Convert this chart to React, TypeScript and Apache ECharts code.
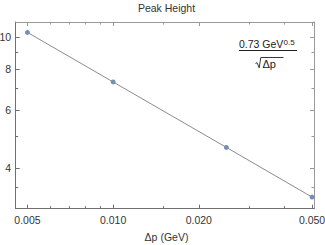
import React, { useEffect, useRef } from 'react';
import * as echarts from 'echarts';

// ---- data ----
const xValues = [0.005, 0.01, 0.025, 0.05];
const yValues = [10.32, 7.3, 4.62, 3.265];
const xMajorTicks = [0.005, 0.01, 0.02, 0.05];
const xMinorTicks = [0.006, 0.007, 0.008, 0.009, 0.015, 0.03, 0.04];
const yMajorTicks = [4, 6, 8, 10];
const yMinorTicks = [3.5, 5, 7, 9];
const xRange = [0.004546, 0.0508];
const yRange = [3.01, 11.1];
const titleText = 'Peak Height';
const xAxisTitle = 'Δp (GeV)';
const fitNumerator = '0.73 GeV';
const fitExponent = '0.5';
const fitDenominator = 'Δp';

const FONT = '"Liberation Sans", Arial, sans-serif';
const TEXT = '#333';

function xAx(position: string, ticks: number[], len: number, color: string, showLine: boolean, labels: boolean) {
  return {
    type: 'log',
    gridIndex: 0,
    position,
    min: xRange[0],
    max: xRange[1],
    axisLine: { show: showLine, onZero: false, lineStyle: { color, width: 1 } },
    axisTick: { show: true, inside: true, length: len, customValues: ticks, lineStyle: { color, width: 1 } },
    axisLabel: labels
      ? { show: true, customValues: ticks, formatter: (v: number) => Number(v).toFixed(3), fontSize: 10.5, color: TEXT, margin: 6, fontFamily: FONT }
      : { show: false },
    splitLine: { show: false },
    minorTick: { show: false },
    minorSplitLine: { show: false },
  };
}

function yAx(position: string, ticks: number[], len: number, color: string, showLine: boolean, labels: boolean) {
  return {
    type: 'log',
    gridIndex: 0,
    position,
    min: yRange[0],
    max: yRange[1],
    axisLine: { show: showLine, onZero: false, lineStyle: { color, width: 1 } },
    axisTick: { show: true, inside: true, length: len, customValues: ticks, lineStyle: { color, width: 1 } },
    axisLabel: labels
      ? { show: true, customValues: ticks, formatter: (v: number) => String(Math.round(Number(v))), fontSize: 10.5, color: TEXT, margin: 4.5, fontFamily: FONT }
      : { show: false },
    splitLine: { show: false },
    minorTick: { show: false },
    minorSplitLine: { show: false },
  };
}

export default function App() {
  const ref = useRef<HTMLDivElement>(null);
  useEffect(() => {
    if (!ref.current) return;
    const chart = echarts.init(ref.current, null, { renderer: 'svg' });
    const points = xValues.map((x, i) => [x, yValues[i]]);
    const dark = '#6f6f6f';
    const light = '#9a9a9a';
    chart.setOption({
      animation: false,
      backgroundColor: '#ffffff',
      grid: { left: 15.7, right: 11, top: 22, bottom: 36.3, containLabel: false, outerBoundsMode: 'none' },
      xAxis: [
        xAx('bottom', xMajorTicks, 4, dark, true, true),
        xAx('bottom', xMinorTicks, 2.5, dark, false, false),
        xAx('top', xMajorTicks, 4, light, true, false),
        xAx('top', xMinorTicks, 2.5, light, false, false),
      ],
      yAxis: [
        yAx('left', yMajorTicks, 4, dark, true, true),
        yAx('left', yMinorTicks, 2.5, dark, false, false),
        yAx('right', yMajorTicks, 4, light, true, false),
        yAx('right', yMinorTicks, 2.5, light, false, false),
      ],
      series: [
        {
          type: 'line',
          xAxisIndex: 0,
          yAxisIndex: 0,
          data: points,
          symbol: 'none',
          lineStyle: { color: '#8c8c8c', width: 1 },
          silent: true,
        },
        {
          type: 'scatter',
          xAxisIndex: 0,
          yAxisIndex: 0,
          data: points,
          symbolSize: 5,
          itemStyle: { color: '#4f72b0' },
          silent: true,
        },
      ],
      graphic: [
        {
          type: 'text', x: 166.5, y: 8,
          style: { text: titleText, fontSize: 10.5, fill: TEXT, fontFamily: FONT, align: 'center', verticalAlign: 'middle' },
        },
        {
          type: 'text', x: 166.5, y: 237,
          style: { text: xAxisTitle, fontSize: 10.5, fill: TEXT, fontFamily: FONT, align: 'center', verticalAlign: 'middle' },
        },
        {
          type: 'text', x: 239, y: 44,
          style: { text: fitNumerator, fontSize: 10.5, fill: '#222', fontFamily: FONT, align: 'left', verticalAlign: 'middle' },
        },
        {
          type: 'text', x: 283.5, y: 42,
          style: { text: fitExponent, fontSize: 8, fill: '#222', fontFamily: FONT, align: 'left', verticalAlign: 'middle' },
        },
        {
          type: 'line',
          shape: { x1: 239, y1: 50.5, x2: 297, y2: 50.5 },
          style: { stroke: '#222', lineWidth: 1 },
        },
        {
          type: 'polyline',
          shape: { points: [[255.5, 63.5], [257, 62.6], [259.2, 67.8], [260.8, 57.5], [283.5, 57.5]] },
          style: { stroke: '#222', lineWidth: 0.9, fill: null },
        },
        {
          type: 'text', x: 262.5, y: 63.5,
          style: { text: fitDenominator, fontSize: 11, fill: '#222', fontFamily: FONT, align: 'left', verticalAlign: 'middle' },
        },
      ],
    });
    return () => chart.dispose();
  }, []);
  return <div ref={ref} style={{ position: 'fixed', left: 0, top: 0, width: 325, height: 245 }} />;
}
